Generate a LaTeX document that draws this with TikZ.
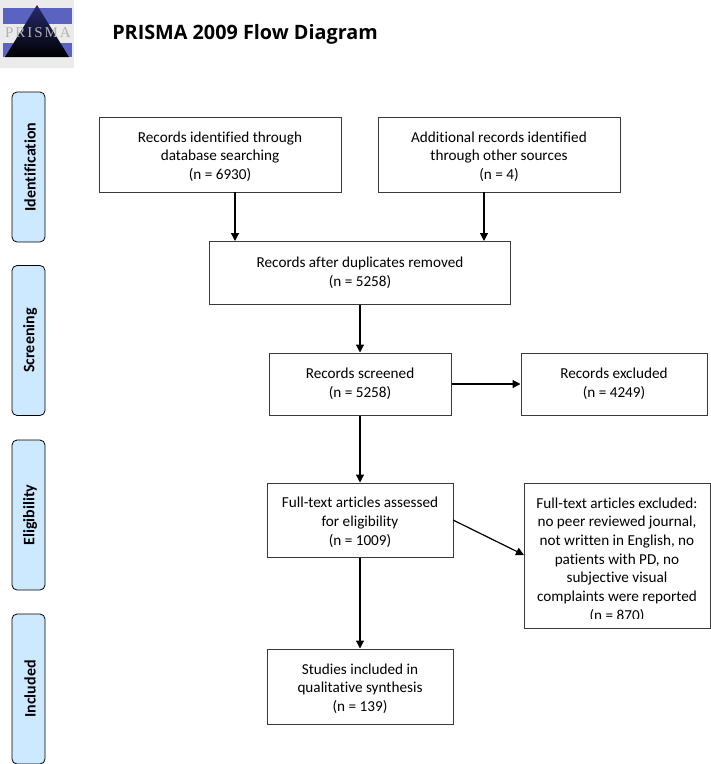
\documentclass[tikz,border=0pt]{standalone}
\usepackage{fontspec}
\setmainfont[Ligatures=NoCommon]{Carlito}
\newfontfamily\titlefont{Open Sans}
\newfontfamily\logofont[LetterSpace=13]{Liberation Serif}
\usetikzlibrary{arrows.meta,
                positioning
            }
\definecolor{phasefill}{HTML}{CCE9FF}
\definecolor{boxline}{HTML}{3A3A3A}
\definecolor{logoblue}{HTML}{5A64C0}
\definecolor{logodark}{HTML}{262A6A}
\newcommand{\lowrow}{\rule{0pt}{15pt}}
\tikzset{
    flowbox/.style={draw=boxline, line width=1pt, fill=white, align=center, inner sep=0pt,
        font=\fontsize{15.2}{18.7}\selectfont},
    phasebox/.style={draw=black, line width=0.8pt, rounded corners=5pt, fill=phasefill,
        minimum width=33pt, minimum height=150pt},
    phaselabel/.style={rotate=90, font=\fontsize{16}{18}\selectfont\bfseries},
    flowarrow/.style={-{Triangle[length=8pt, width=8pt]}, line width=1.2pt}
}
\begin{document}
\begin{tikzpicture}[x=1pt, y=-1pt]
            \useasboundingbox (0, 0) rectangle (711, 764);
            % logo
            \fill[black!8] (0, 0) rectangle (74, 68);
            \fill[logoblue] (3, 8) rectangle (72, 24);
            \fill[logoblue] (3, 43) rectangle (72, 57);
            \shade[top color=logodark, bottom color=black] (37, 5) -- (69, 57) -- (5, 57) -- cycle;
            \node[text=black!30, inner sep=0pt, font=\logofont\fontsize{15}{15}\selectfont] (logotext) at (38, 32.5) {PRISMA};
            % title
            \node[inner sep=0pt, font=\titlefont\fontsize{19.8}{22}\selectfont\bfseries] (title) at (245, 34) {PRISMA 2009 Flow Diagram};
            % phases
            \node[phasebox] (identification) at (28.5, 167) {};
            \node[phasebox] (screening) at (28.5, 340.5) {};
            \node[phasebox] (eligibility) at (28.5, 515) {};
            \node[phasebox] (included) at (28.5, 689) {};
            \node[phaselabel] (identificationtext) at (30, 167) {Identification};
            \node[phaselabel] (screeningtext) at (30, 340.5) {Screening};
            \node[phaselabel] (eligibilitytext) at (30, 515) {Eligibility};
            \node[phaselabel] (includedtext) at (30, 689) {Included};
            % boxes
            \node[flowbox, minimum width=242pt, minimum height=75pt] (database) at (220, 154.5) {\lowrow Records identified through\\database searching\\(n = 6930)};
            \node[flowbox, minimum width=242pt, minimum height=75pt] (other) at (499, 154.5) {\lowrow Additional records identified\\through other sources\\(n = 4)};
            \node[flowbox, minimum width=301pt, minimum height=63pt] (duplicates) at (360, 272.5) {Records after duplicates removed\\(n = 5258)};
            \node[flowbox, minimum width=182pt, minimum height=62pt] (screened) at (360, 384) {Records screened\\(n = 5258)};
            \node[flowbox, minimum width=186pt, minimum height=62pt] (excluded) at (614, 384) {Records excluded\\(n = 4249)};
            \node[flowbox, minimum width=186pt, minimum height=74pt] (assessed) at (360, 520) {\lowrow Full-text articles assessed\\for eligibility\\(n = 1009)};
            \node[flowbox, minimum width=186pt, minimum height=145pt] (fulltext) at (617, 555.5) {};
            \node[flowbox, minimum width=186pt, minimum height=75pt] (studies) at (360, 686.5) {\lowrow Studies included in\\qualitative synthesis\\(n = 139)};
            % text of the excluded box runs past its frame
            \begin{scope}
                \clip (524, 484) rectangle (710, 618.5);
                \node[flowbox, draw=none, fill=none, anchor=north] (fulltexttext) at (617, 497) {Full-text articles excluded:\\no peer reviewed journal,\\not written in English, no\\patients with PD, no\\subjective visual\\complaints were reported\\(n = 870)};
            \end{scope}
            % arrows
            \coordinate (databasefoot) at (235, 192);
            \coordinate (duplicatesleft) at (235, 241);
            \coordinate (otherfoot) at (484, 192);
            \coordinate (duplicatesright) at (484, 241);
            \coordinate (assessedout) at (453, 520);
            \coordinate (fulltextin) at (524, 555);
            \draw[flowarrow] (databasefoot) -- (duplicatesleft);
            \draw[flowarrow] (otherfoot) -- (duplicatesright);
            \draw[flowarrow] (duplicates.south) -- (screened.north);
            \draw[flowarrow] (screened.east) -- (excluded.west);
            \draw[flowarrow] (screened.south) -- (assessed.north);
            \draw[flowarrow] (assessedout) -- (fulltextin);
            \draw[flowarrow] (assessed.south) -- (studies.north);
        \end{tikzpicture}
\end{document}
